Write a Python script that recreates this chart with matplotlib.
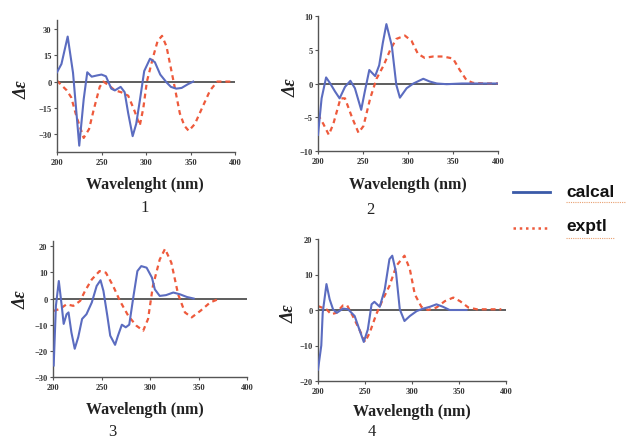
import numpy as np
import matplotlib
matplotlib.use("Agg")
import matplotlib.pyplot as plt
from matplotlib.lines import Line2D

## CD spectra, calc vs expt, four compounds

wl1_calc = [200, 205, 212, 218, 225, 230, 234, 239, 245, 250, 255, 261, 265, 271.5, 276, 280, 285, 289, 293, 298, 304.5, 310, 316, 323, 328, 334, 340, 347, 353]
de1_calc = [5.3, 10, 25.6, 5, -36.4, -10, 5.3, 2.8, 3.5, 4, 3, -4, -5, -3, -6, -18, -31, -24, -11, 6, 13, 11, 4, -0.4, -3, -4, -3.6, -1.5, 0]
wl1_expt = [200, 205, 211, 216, 222, 230, 236, 241, 248, 252, 258, 265, 272, 280, 287, 293, 297, 301, 308, 313, 318, 323, 331, 338, 343, 348, 355, 363, 372, 380, 390, 398]
de1_expt = [0.5, -2, -5, -9, -20, -32, -27, -16.5, -3, 0, -2, -5, -6, -8, -16.5, -25, -15, 0, 14, 23, 26, 20, 0, -18, -25, -28, -24, -15, -5, 0, 0, 0]

wl2_calc = [200, 204, 209, 213.6, 219, 224, 230, 236, 241, 248, 252, 257, 263.5, 268, 272, 276, 282, 287, 291, 298.5, 306, 317, 324, 332, 343, 360, 380, 400]
de2_calc = [-7.6, -2.2, 0.9, 0, -1.2, -2.2, -0.5, 0.4, -0.7, -3.9, -1.2, 2, 1.1, 2.7, 6, 8.8, 5.6, -0.2, -2.1, -0.7, 0, 0.7, 0.3, 0, -0.1, 0, 0, 0]
wl2_expt = [200, 206, 212, 217, 225, 230, 238, 245, 250.5, 258, 265, 273, 280, 287, 296.5, 304, 311, 318.5, 328, 339, 350, 357.5, 365, 372, 385, 400]
de2_expt = [-4.6, -6, -7.6, -6, -2.2, -2.2, -5.1, -7.3, -6.3, -2.2, 0.7, 2.7, 4.9, 6.6, 7.1, 6.3, 4.4, 3.8, 4, 4, 3.7, 2, 0.5, 0.1, 0, 0]

wl3_calc = [200.7, 203, 206, 209, 211, 214, 216, 219, 222.4, 226, 230, 234.5, 240, 245, 249, 252, 256, 259, 264, 267, 271, 275, 278.6, 283, 287, 291, 296.5, 302, 305, 310, 316.5, 324, 331, 338, 345]
de3_calc = [-25.6, -2.8, 6.7, -2.8, -9.7, -6, -5.3, -13, -19.2, -14.8, -7.8, -6, -1.5, 4.8, 7, 2.9, -6.6, -14.2, -17.7, -14.2, -10, -11, -10, 1, 10.5, 12.4, 11.8, 8, 3.5, 1, 1.3, 2.3, 1.6, 0.6, 0]
wl3_expt = [200.7, 207, 214, 221, 228, 233, 240, 248, 254.5, 262, 269, 277.6, 286, 293, 298, 303, 310, 315.5, 322, 329, 336, 343, 352, 362, 372]
de3_expt = [-4.7, -4, -2.2, -2.8, -0.9, 2.9, 7.3, 10.5, 9.9, 4.8, -0.9, -6.6, -10.4, -12.3, -7.8, 4.8, 14.9, 19, 13.7, 1.6, -5.3, -7.2, -4.7, -1.5, 0]

wl4_calc = [200, 203.5, 205, 209, 212.4, 216, 220, 226.6, 232, 239, 244, 248.7, 253, 257, 260, 265.7, 271, 276, 279, 283, 287, 292, 297.7, 305, 312, 319, 326, 333, 340, 358]
de4_calc = [-16.8, -10, -0.8, 7.3, 3, 0.2, -0.8, 0.4, 0.2, -1.7, -5.5, -9, -5.5, 1.6, 2.3, 0.9, 5.8, 14.3, 15.3, 10.6, 0.2, -3.1, -1.7, -0.3, 0.4, 0.9, 1.6, 0.9, 0, 0]
wl4_expt = [200, 209, 214, 219.5, 226.6, 231, 237, 244, 250, 255, 262, 269, 276, 283.5, 292, 297.7, 303, 310, 317, 326, 335, 344, 351, 360, 369, 395]
de4_expt = [1.1, 0.2, -1.2, -0.8, 1.3, 1.3, -1.7, -5.5, -9, -6.4, -1.2, 3, 6.8, 12.5, 15.3, 11.5, 4.4, 0.9, 0, 0.7, 2.5, 3.5, 2.5, 0.7, 0.2, 0.2]

panels = [
  (wl1_calc, de1_calc, wl1_expt, de1_expt, (-40, 35), [-30, -15, 0, 15, 30], "Wavelenght (nm)", "1"),
  (wl2_calc, de2_calc, wl2_expt, de2_expt, (-10, 10), [-10, -5, 0, 5, 10], "Wavelength (nm)", "2"),
  (wl3_calc, de3_calc, wl3_expt, de3_expt, (-30, 22), [-30, -20, -10, 0, 10, 20], "Wavelength (nm)", "3"),
  (wl4_calc, de4_calc, wl4_expt, de4_expt, (-20, 20), [-20, -10, 0, 10, 20], "Wavelength (nm)", "4"),
]

# axes boxes in pixels: left, right, top, bottom
boxes = [(57, 235, 21, 153), (318, 498, 17, 152), (53, 247, 242, 378), (318, 506, 240, 382)]
# where the xlabel / number / ylabel sit (pixels)
xlab_pos = [(145, 185), (408, 185), (145, 410), (412, 412)]
num_pos = [(145, 208), (370, 210), (112, 432), (372, 432)]
ylab_pos = [(22, 90), (291, 88), (21, 300), (289, 314)]

W, H = 627, 439
blue = "#5b6cc0"
red = "#ee5a3c"
serif = "Liberation Serif"

fig = plt.figure(figsize=(W/100, H/100), dpi=100)

for i, (xc, yc, xe, ye, ylim, yt, xl, num) in enumerate(panels):
  l, r, t, b = boxes[i]
  ax = fig.add_axes([l/W, 1 - b/H, (r - l)/W, (b - t)/H])
  ax.axhline(0, color="#505050", lw=1.3, zorder=1)
  ax.plot(xe, ye, color=red, lw=1.6, ls=(0, (2.2, 1.8)), zorder=2)
  ax.plot(xc, yc, color=blue, lw=1.5, zorder=3)
  ax.set_xlim(200, 400)
  ax.set_ylim(*ylim)
  ax.set_xticks([200, 250, 300, 350, 400])
  ax.set_yticks(yt)
  for s in ["top", "right"]:
    ax.spines[s].set_visible(False)
  for s in ["left", "bottom"]:
    ax.spines[s].set_color("#555555")
    ax.spines[s].set_linewidth(1.0)
  ax.tick_params(direction="out", length=2.5, width=0.8, colors="#555555", pad=1.5)
  for lab in ax.get_xticklabels() + ax.get_yticklabels():
    lab.set_fontfamily(serif)
    lab.set_fontweight("bold")
    lab.set_fontsize(6)
    lab.set_color("#333333")
  fig.text(xlab_pos[i][0]/W, 1 - xlab_pos[i][1]/H, xl, ha="center", va="center",
           family=serif, fontweight="bold", fontsize=11.5, color="#222222")
  fig.text(num_pos[i][0]/W, 1 - num_pos[i][1]/H, num, ha="center", va="center",
           family=serif, fontsize=12, color="#222222")
  fig.text(ylab_pos[i][0]/W, 1 - ylab_pos[i][1]/H, "\u0394\u03b5", ha="center", va="center",
           rotation=90, family=serif, fontweight="bold", fontstyle="italic",
           fontsize=13, color="#222222")

# legend drawn by hand on the right
fig.add_artist(Line2D([513/W, 550/W], [1 - 193/H, 1 - 193/H], color="#3a5aa8", lw=2))
fig.add_artist(Line2D([513/W, 550/W], [1 - 229/H, 1 - 229/H], color=red, lw=1.8, ls=(0, (1, 1.5))))
fig.text(566/W, 1 - 193/H, "calcal", ha="left", va="center", family="Liberation Sans",
         fontweight="bold", fontsize=12.5, color="#111111")
fig.text(566/W, 1 - 227/H, "exptl", ha="left", va="center", family="Liberation Sans",
         fontweight="bold", fontsize=12.5, color="#111111")
# spell-check squiggle under legend words
fig.add_artist(Line2D([566/W, 625/W], [1 - 203/H, 1 - 203/H], color="#e8a070", lw=0.8, ls=(0, (1, 1))))
fig.add_artist(Line2D([566/W, 614/W], [1 - 239/H, 1 - 239/H], color="#e8a070", lw=0.8, ls=(0, (1, 1))))

fig.savefig("out.png", dpi=100)
